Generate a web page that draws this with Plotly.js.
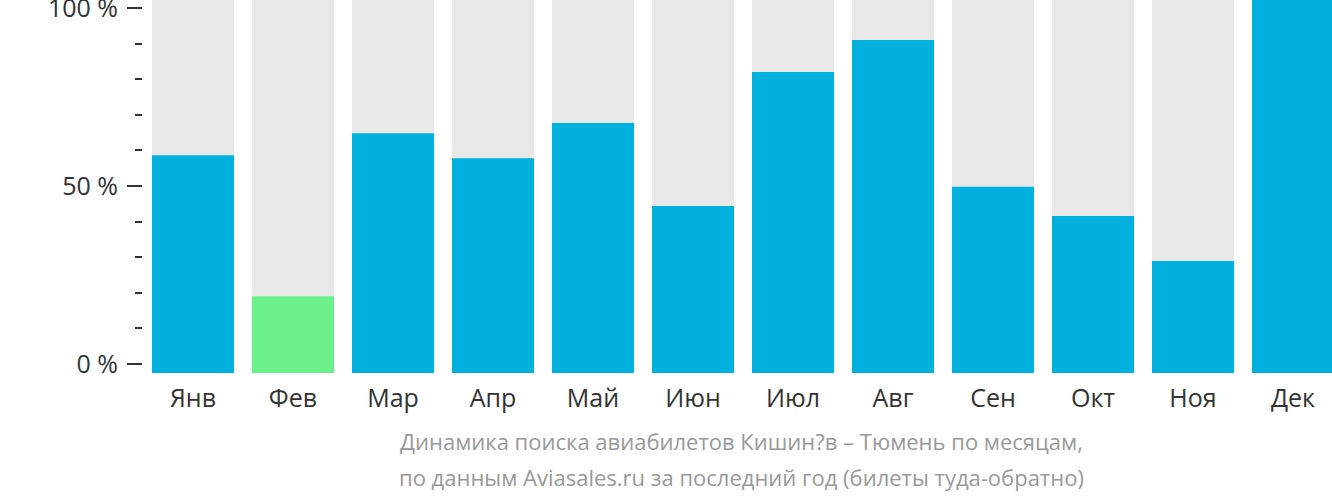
<!DOCTYPE html>
<html><head><meta charset="utf-8">
<script src="https://cdn.plot.ly/plotly-3.0.1.min.js"></script>
<style>html,body{margin:0;padding:0;background:#fff;}#chart{width:1332px;height:502px;}</style>
</head><body><div id="chart"></div>
<script>
const months = ["Янв","Фев","Мар","Апр","Май","Июн","Июл","Авг","Сен","Окт","Ноя","Дек"];
const values = [58.4, 20.6, 64.3, 57.6, 67.0, 44.8, 80.7, 89.3, 49.9, 42.1, 30.0, 100];
const fullBar = months.map(() => 100);
const tickVals = [0, 50, 100];
const tickText = ["0 %", "50 %", "100 %"];
const lowestIdx = values.indexOf(Math.min(...values));
const colors = values.map((v, i) => i === lowestIdx ? "#6cf08a" : "#00b0dd");
const titleLines = ["Динамика поиска авиабилетов Кишин?в – Тюмень по месяцам,",
                    "по данным Aviasales.ru за последний год (билеты туда-обратно)"];

const traces = [
  {type:"bar", x:months, y:fullBar, marker:{color:"#e8e8e8"}, hoverinfo:"skip", width:0.82, xaxis:"x", yaxis:"y"},
  {type:"bar", x:months, y:values, marker:{color:colors}, width:0.82, xaxis:"x", yaxis:"y"},
  {type:"scatter", x:[], y:[], xaxis:"x", yaxis:"y2", hoverinfo:"skip", showlegend:false}
];
const layout = {
  width:1332, height:502,
  margin:{l:143, r:0, t:0, b:129},
  barmode:"overlay", showlegend:false,
  paper_bgcolor:"#fff", plot_bgcolor:"#fff",
  font:{family:"Open Sans, sans-serif", color:"#333"},
  xaxis:{range:[-0.5, 11.39], showgrid:false, zeroline:false, showline:false, ticks:"",
         tickfont:{size:25, color:"#333"}, ticklabelstandoff:8, fixedrange:true},
  yaxis:{range:[0,100], visible:false, fixedrange:true},
  yaxis2:{overlaying:"y", side:"left", range:[-2.53, 102.25], showgrid:false, zeroline:false, showline:false,
          tickmode:"array", tickvals:tickVals, ticktext:tickText, ticks:"outside", ticklen:15, tickwidth:2, tickcolor:"#333",
          tickfont:{size:25, color:"#333"}, ticklabelstandoff:4, ticklabeloverflow:"allow",
          minor:{dtick:10, ticks:"outside", ticklen:7, tickwidth:2, tickcolor:"#333", showgrid:false}},
  annotations:[
    {xref:"paper", yref:"paper", x:0.503, y:-0.182, yanchor:"middle", showarrow:false, text:titleLines[0], font:{size:22, color:"#999"}},
    {xref:"paper", yref:"paper", x:0.503, y:-0.279, yanchor:"middle", showarrow:false, text:titleLines[1], font:{size:22, color:"#999"}}
  ]
};
Plotly.newPlot("chart", traces, layout, {displayModeBar:false, staticPlot:true});
</script></body></html>
